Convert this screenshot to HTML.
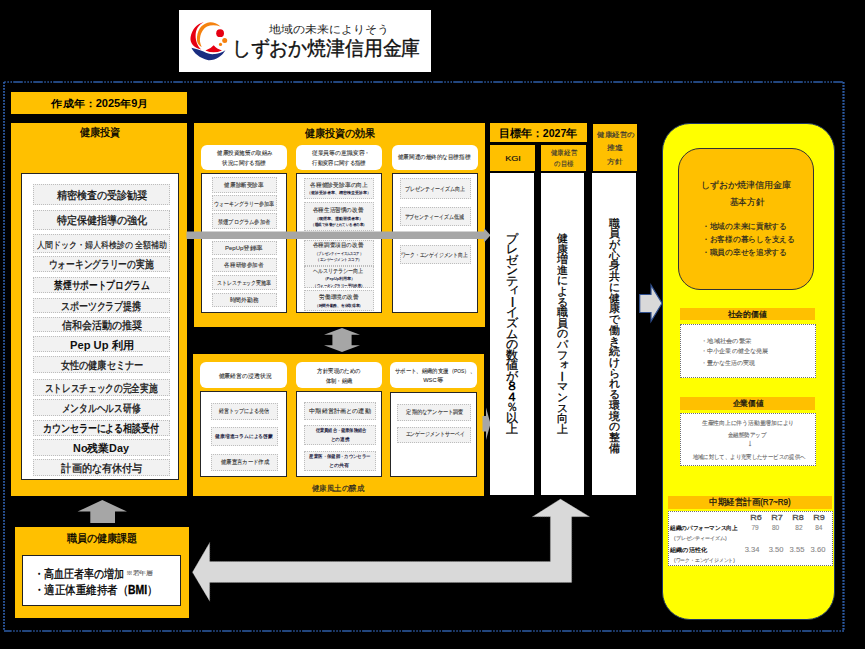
<!DOCTYPE html><html><head><meta charset="utf-8"><style>
*{margin:0;padding:0;box-sizing:border-box}
html,body{width:865px;height:649px;overflow:hidden;background:#000}
body{position:relative;font-family:"Liberation Sans",sans-serif;color:#000}
div,svg{position:absolute}
.it{background:#F2F2F2;border:1px dotted #BDBDBD}
.wb{background:#fff;border:1.5px solid #262626}
.rb{background:#fff;border-radius:6px}
.y{background:#FFC000}
.t{white-space:nowrap;line-height:1}
</style></head><body>
<div class="" style="left:179px;top:10px;width:252.00px;height:62.00px;background:#fff"></div>
<svg style="left:185px;top:18px" width="50" height="46" viewBox="0 0 50 46">
<path d="M18.8 3.9 C12 6 7 11 5.6 19 C4.6 25 9 30 16.3 31.6 C12.5 28 10.4 23 10.6 17 C10.8 11 13.5 7 18.8 3.9Z" fill="#E60012"/>
<path d="M35.5 8.5 C32 5 28 4 25 4.2 C18 5 13 10 12 19 C11.5 24 13 27 16.7 29 C15 25 14.5 22 15.2 19 C16 14 19 10 22 8.5 C26 6.8 31 7 35.5 8.5Z" fill="#F5820F"/>
<circle cx="35.1" cy="15.2" r="3.9" fill="#E60012"/>
<circle cx="39.7" cy="22.6" r="2.5" fill="#F5820F"/>
<circle cx="35.5" cy="26.4" r="1.6" fill="#F5820F"/>
<path d="M28.7 27.3 Q25.5 31.2 20.4 32.4 Q28.5 36.2 37 32.4 Q31.8 31.2 28.7 27.3Z" fill="#E60012"/>
<path d="M6.4 29.8 C9 35 14 40 23.4 42.2 C31 42.5 37 38 40.4 32.3 C37 34.5 34 35.6 30 36 C26.5 36.4 23 36 18.5 33.6 C14 31.5 10 31 6.4 29.8Z" fill="#1A2D80"/>
</svg>
<div id="t0e4bdf58" class="t" style="left:328.50px;top:29.00px;font-size:11px;transform:translate(-50%,-50%) scaleX(1.084);transform-origin:50% 50%;-webkit-text-stroke:0.3px currentColor;color:#222;font-family:'Liberation Serif',serif;-webkit-text-stroke:0">地域の未来によりそう</div>
<div id="t167fb4bd" class="t" style="left:325.50px;top:48.00px;font-size:20px;transform:translate(-50%,-50%) scaleX(0.942);transform-origin:50% 50%;-webkit-text-stroke:0.3px currentColor;color:#111;-webkit-text-stroke:0.4px #111">しずおか焼津信用金庫</div>
<svg style="left:0;top:0" width="865" height="649"><g stroke="#2E5DA8" fill="none"><line x1="4" y1="82" x2="844" y2="82" stroke-width="1.5" stroke-dasharray="9.6 1.5 1.5 1.6 1.5 1.6 1.5 1.2" stroke-dashoffset="10.8"/><line x1="4" y1="631" x2="844" y2="631" stroke-width="1.5" stroke-dasharray="9.6 1.5 1.5 1.6 1.5 1.6 1.5 1.2" stroke-dashoffset="1.9"/><line x1="4" y1="82" x2="4" y2="631" stroke-width="1.8" stroke-dasharray="1.7 1.3"/><line x1="843.5" y1="82" x2="843.5" y2="631" stroke-width="2.2" stroke-dasharray="1.7 1.3"/></g></svg>
<div class="y" style="left:11px;top:92px;width:176.00px;height:22.00px;"></div>
<div id="tf1b5cfc6" class="t" style="left:100.00px;top:104.00px;font-size:10px;transform:translate(-50%,-50%) scaleX(1.105);transform-origin:50% 50%;font-weight:bold">作成年：2025年9月</div>
<div class="y" style="left:11px;top:123px;width:176.00px;height:372.50px;"></div>
<div id="t45ab5881" class="t" style="left:100.00px;top:132.00px;font-size:10.5px;transform:translate(-50%,-50%) scaleX(0.926);transform-origin:50% 50%;-webkit-text-stroke:0.3px currentColor;">健康投資</div>
<div class="wb" style="left:21px;top:172.5px;width:157.70px;height:307.00px;"></div>
<div class="it" style="left:32.5px;top:184px;width:137.50px;height:20.50px;"></div>
<div id="t2077ab86" class="t" style="left:101.50px;top:195.20px;font-size:11px;transform:translate(-50%,-50%) scaleX(0.919);transform-origin:50% 50%;-webkit-text-stroke:0.3px currentColor;color:#111">精密検査の受診勧奨</div>
<div class="it" style="left:32.5px;top:209.5px;width:137.50px;height:20.00px;"></div>
<div id="t15f78cc2" class="t" style="left:101.50px;top:219.70px;font-size:11px;transform:translate(-50%,-50%) scaleX(0.919);transform-origin:50% 50%;-webkit-text-stroke:0.3px currentColor;color:#111">特定保健指導の強化</div>
<div class="it" style="left:32.5px;top:233.5px;width:137.50px;height:19.00px;"></div>
<div id="tf985c4e7" class="t" style="left:102.00px;top:244.70px;font-size:8.5px;transform:translate(-50%,-50%) scaleX(0.884);transform-origin:50% 50%;-webkit-text-stroke:0.15px currentColor;color:#111">人間ドック・婦人科検診の 全額補助</div>
<div class="it" style="left:32.5px;top:255.5px;width:137.50px;height:16.00px;"></div>
<div id="tda2bb77f" class="t" style="left:100.50px;top:263.70px;font-size:11px;transform:translate(-50%,-50%) scaleX(0.794);transform-origin:50% 50%;-webkit-text-stroke:0.3px currentColor;color:#111">ウォーキングラリーの実施</div>
<div class="it" style="left:32.5px;top:276.5px;width:137.50px;height:16.00px;"></div>
<div id="t773daa88" class="t" style="left:102.00px;top:285.20px;font-size:11px;transform:translate(-50%,-50%) scaleX(0.792);transform-origin:50% 50%;font-weight:bold;color:#111">禁煙サポートプログラム</div>
<div class="it" style="left:32.5px;top:297.5px;width:137.50px;height:15.50px;"></div>
<div id="t94aa2943" class="t" style="left:101.00px;top:306.20px;font-size:11px;transform:translate(-50%,-50%) scaleX(0.817);transform-origin:50% 50%;-webkit-text-stroke:0.3px currentColor;color:#111">スポーツクラブ提携</div>
<div class="it" style="left:32.5px;top:317px;width:137.50px;height:15.00px;"></div>
<div id="t51c74ce7" class="t" style="left:102.00px;top:324.70px;font-size:11px;transform:translate(-50%,-50%) scaleX(0.909);transform-origin:50% 50%;-webkit-text-stroke:0.3px currentColor;color:#111">信和会活動の推奨</div>
<div class="it" style="left:32.5px;top:336px;width:137.50px;height:16.00px;"></div>
<div id="t1472ccc7" class="t" style="left:101.50px;top:344.70px;font-size:11px;transform:translate(-50%,-50%) scaleX(1.016);transform-origin:50% 50%;font-weight:bold;color:#111">Pep Up 利用</div>
<div class="it" style="left:32.5px;top:356px;width:137.50px;height:17.00px;"></div>
<div id="td626e65e" class="t" style="left:102.00px;top:364.70px;font-size:11px;transform:translate(-50%,-50%) scaleX(0.837);transform-origin:50% 50%;-webkit-text-stroke:0.3px currentColor;color:#111">女性の健康セミナー</div>
<div class="it" style="left:32.5px;top:378.5px;width:137.50px;height:17.50px;"></div>
<div id="tff82e9bc" class="t" style="left:101.00px;top:388.20px;font-size:11px;transform:translate(-50%,-50%) scaleX(0.789);transform-origin:50% 50%;-webkit-text-stroke:0.3px currentColor;color:#111">ストレスチェックの完全実施</div>
<div class="it" style="left:32.5px;top:399px;width:137.50px;height:16.50px;"></div>
<div id="t6e018c71" class="t" style="left:101.00px;top:408.20px;font-size:11px;transform:translate(-50%,-50%) scaleX(0.796);transform-origin:50% 50%;-webkit-text-stroke:0.3px currentColor;color:#111">メンタルヘルス研修</div>
<div class="it" style="left:32.5px;top:419.5px;width:137.50px;height:16.00px;"></div>
<div id="tf540cbac" class="t" style="left:101.00px;top:428.20px;font-size:11px;transform:translate(-50%,-50%) scaleX(0.817);transform-origin:50% 50%;font-weight:bold;color:#111">カウンセラーによる相談受付</div>
<div class="it" style="left:32.5px;top:439px;width:137.50px;height:16.50px;"></div>
<div id="t15cdb884" class="t" style="left:101.00px;top:448.20px;font-size:11px;transform:translate(-50%,-50%) scaleX(0.982);transform-origin:50% 50%;font-weight:bold;color:#111">No残業Day</div>
<div class="it" style="left:32.5px;top:459px;width:137.50px;height:16.50px;"></div>
<div id="t2916e353" class="t" style="left:102.00px;top:468.20px;font-size:11px;transform:translate(-50%,-50%) scaleX(0.921);transform-origin:50% 50%;-webkit-text-stroke:0.3px currentColor;color:#111">計画的な有休付与</div>
<div class="y" style="left:193.5px;top:123px;width:291.00px;height:204.00px;"></div>
<div id="t09cd04c0" class="t" style="left:339.50px;top:132.50px;font-size:11px;transform:translate(-50%,-50%) scaleX(0.920);transform-origin:50% 50%;-webkit-text-stroke:0.3px currentColor;">健康投資の効果</div>
<div class="rb" style="left:201px;top:144.5px;width:86.00px;height:25.50px;"></div>
<div class="wb" style="left:201px;top:173px;width:86.00px;height:139.50px;"></div>
<div class="rb" style="left:296px;top:144.5px;width:86.00px;height:25.50px;"></div>
<div class="wb" style="left:296px;top:173px;width:86.00px;height:139.50px;"></div>
<div class="rb" style="left:391.5px;top:144.5px;width:86.00px;height:25.50px;"></div>
<div class="wb" style="left:391.5px;top:173px;width:86.00px;height:139.50px;"></div>
<div id="ta4ef42b8" class="t" style="left:245.00px;top:153.50px;font-size:5.5px;transform:translate(-50%,-50%) scaleX(0.919);transform-origin:50% 50%;-webkit-text-stroke:0.1px currentColor;color:#333">健康投資施策の取組み</div>
<div id="t031d5e7b" class="t" style="left:243.50px;top:163.50px;font-size:5.5px;transform:translate(-50%,-50%) scaleX(0.914);transform-origin:50% 50%;-webkit-text-stroke:0.1px currentColor;color:#333">状況に関する指標</div>
<div id="t3e465d54" class="t" style="left:341.00px;top:153.50px;font-size:5.5px;transform:translate(-50%,-50%) scaleX(0.973);transform-origin:50% 50%;-webkit-text-stroke:0.1px currentColor;color:#333">従業員等の意識変容・</div>
<div id="t0165ee0a" class="t" style="left:339.00px;top:163.50px;font-size:5.5px;transform:translate(-50%,-50%) scaleX(0.893);transform-origin:50% 50%;-webkit-text-stroke:0.1px currentColor;color:#333">行動変容に関する指標</div>
<div id="t205b4383" class="t" style="left:434.00px;top:158.00px;font-size:5.5px;transform:translate(-50%,-50%) scaleX(0.926);transform-origin:50% 50%;-webkit-text-stroke:0.1px currentColor;color:#333">健康関連の最終的な目標指標</div>
<div class="it" style="left:211.5px;top:177px;width:65.00px;height:15.50px;"></div>
<div id="taf4f44cf" class="t" style="left:244.00px;top:186.30px;font-size:5.5px;transform:translate(-50%,-50%) scaleX(0.929);transform-origin:50% 50%;-webkit-text-stroke:0.1px currentColor;color:#333">健康診断受診率</div>
<div class="it" style="left:211.5px;top:195px;width:65.00px;height:16.00px;"></div>
<div id="tbf0c9635" class="t" style="left:243.50px;top:204.80px;font-size:5.5px;transform:translate(-50%,-50%) scaleX(0.831);transform-origin:50% 50%;-webkit-text-stroke:0.1px currentColor;color:#333">ウォーキングラリー参加率</div>
<div class="it" style="left:211.5px;top:213px;width:65.00px;height:16.00px;"></div>
<div id="t603f031b" class="t" style="left:244.00px;top:222.80px;font-size:5.5px;transform:translate(-50%,-50%) scaleX(0.867);transform-origin:50% 50%;-webkit-text-stroke:0.1px currentColor;color:#333">禁煙プログラム参加者</div>
<div class="it" style="left:211.5px;top:241px;width:65.00px;height:13.50px;"></div>
<div id="t2bb5a82e" class="t" style="left:244.00px;top:249.30px;font-size:5.5px;transform:translate(-50%,-50%) scaleX(1.088);transform-origin:50% 50%;-webkit-text-stroke:0.1px currentColor;color:#333">PepUp登録率</div>
<div class="it" style="left:211.5px;top:258px;width:65.00px;height:13.50px;"></div>
<div id="t01b677c1" class="t" style="left:244.00px;top:266.30px;font-size:5.5px;transform:translate(-50%,-50%) scaleX(0.929);transform-origin:50% 50%;-webkit-text-stroke:0.1px currentColor;color:#333">各種研修参加者</div>
<div class="it" style="left:211.5px;top:274.5px;width:65.00px;height:15.00px;"></div>
<div id="teb963d2b" class="t" style="left:243.50px;top:283.80px;font-size:5.5px;transform:translate(-50%,-50%) scaleX(0.815);transform-origin:50% 50%;-webkit-text-stroke:0.1px currentColor;color:#333">ストレスチェック実施率</div>
<div class="it" style="left:211.5px;top:293px;width:65.00px;height:13.50px;"></div>
<div id="tc0d579b9" class="t" style="left:243.50px;top:301.30px;font-size:5.5px;transform:translate(-50%,-50%) scaleX(0.966);transform-origin:50% 50%;-webkit-text-stroke:0.1px currentColor;color:#333">時間外勤務</div>
<div class="it" style="left:303.5px;top:177.5px;width:70.50px;height:21.00px;"></div>
<div class="it" style="left:303.5px;top:202px;width:70.50px;height:28.50px;"></div>
<div class="it" style="left:303.5px;top:239.5px;width:70.50px;height:26.00px;"></div>
<div class="it" style="left:303.5px;top:265.5px;width:70.50px;height:22.50px;"></div>
<div class="it" style="left:303.5px;top:290px;width:70.50px;height:20.50px;"></div>
<div id="tf2401383" class="t" style="left:338.50px;top:186.00px;font-size:5.5px;transform:translate(-50%,-50%) scaleX(0.962);transform-origin:50% 50%;-webkit-text-stroke:0.1px currentColor;color:#333">各種健診受診率の向上</div>
<div id="tf4c7ce65" class="t" style="left:339.00px;top:194.00px;font-size:3.8px;transform:translate(-50%,-50%) scaleX(0.995);transform-origin:50% 50%;color:#1a1a3a;font-weight:bold">（健診受診者率、精密検査受診率）</div>
<div id="t478d2fc5" class="t" style="left:338.00px;top:211.00px;font-size:5.5px;transform:translate(-50%,-50%) scaleX(0.935);transform-origin:50% 50%;-webkit-text-stroke:0.1px currentColor;color:#333">各種生活習慣の改善</div>
<div id="td45bda7b" class="t" style="left:338.50px;top:219.50px;font-size:3.8px;transform:translate(-50%,-50%) scaleX(0.996);transform-origin:50% 50%;color:#1a1a3a;font-weight:bold">（喫煙率、運動習慣者率）</div>
<div id="t1536c896" class="t" style="left:338.50px;top:225.50px;font-size:3.8px;transform:translate(-50%,-50%) scaleX(0.860);transform-origin:50% 50%;color:#1a1a3a;font-weight:bold">（睡眠で休養がとれている者の率）</div>
<div id="t45578a17" class="t" style="left:338.00px;top:246.00px;font-size:5.5px;transform:translate(-50%,-50%) scaleX(0.935);transform-origin:50% 50%;-webkit-text-stroke:0.1px currentColor;color:#333">各種調査項目の改善</div>
<div id="tc26bcb35" class="t" style="left:338.50px;top:255.00px;font-size:3.8px;transform:translate(-50%,-50%) scaleX(0.792);transform-origin:50% 50%;color:#1a1a3a;font-weight:bold">（プレゼンティーイズムスコア）</div>
<div id="td4ae2207" class="t" style="left:339.00px;top:260.50px;font-size:3.8px;transform:translate(-50%,-50%) scaleX(0.867);transform-origin:50% 50%;color:#1a1a3a;font-weight:bold">（エンゲージメントスコア）</div>
<div id="t34e5b0dd" class="t" style="left:338.00px;top:271.50px;font-size:5.5px;transform:translate(-50%,-50%) scaleX(0.847);transform-origin:50% 50%;-webkit-text-stroke:0.1px currentColor;color:#333">ヘルスリテラシー向上</div>
<div id="tefb3da15" class="t" style="left:339.00px;top:279.50px;font-size:3.8px;transform:translate(-50%,-50%) scaleX(1.014);transform-origin:50% 50%;color:#1a1a3a;font-weight:bold">（PepUp利用率）</div>
<div id="t3b469108" class="t" style="left:338.50px;top:286.50px;font-size:3.8px;transform:translate(-50%,-50%) scaleX(0.853);transform-origin:50% 50%;color:#1a1a3a;font-weight:bold">（ウォーキングラリー平均歩数）</div>
<div id="t4af6acf0" class="t" style="left:339.00px;top:298.00px;font-size:5.5px;transform:translate(-50%,-50%) scaleX(0.937);transform-origin:50% 50%;-webkit-text-stroke:0.1px currentColor;color:#333">労働環境の改善</div>
<div id="t0f0f396c" class="t" style="left:338.50px;top:306.50px;font-size:3.8px;transform:translate(-50%,-50%) scaleX(0.928);transform-origin:50% 50%;color:#1a1a3a;font-weight:bold">（時間外勤務、有休取得率）</div>
<div class="it" style="left:400px;top:178px;width:70.50px;height:20.50px;"></div>
<div id="tf1e36ef1" class="t" style="left:435.00px;top:190.30px;font-size:5.5px;transform:translate(-50%,-50%) scaleX(0.829);transform-origin:50% 50%;-webkit-text-stroke:0.1px currentColor;color:#333">プレゼンティーイズム向上</div>
<div class="it" style="left:400px;top:207px;width:70.50px;height:18.50px;"></div>
<div id="t4d20fc9c" class="t" style="left:433.50px;top:218.30px;font-size:5.5px;transform:translate(-50%,-50%) scaleX(0.817);transform-origin:50% 50%;-webkit-text-stroke:0.1px currentColor;color:#333">アブセンティーイズム低減</div>
<div class="it" style="left:400px;top:245px;width:70.50px;height:18.50px;"></div>
<div id="t6080fe3c" class="t" style="left:434.00px;top:256.30px;font-size:5.5px;transform:translate(-50%,-50%) scaleX(0.793);transform-origin:50% 50%;-webkit-text-stroke:0.1px currentColor;color:#333">ワーク・エンゲイジメント向上</div>
<svg style="left:0;top:0" width="865" height="649"><path d="M186.5 231.5 H484 V228 L490.5 235.2 L484 242.5 V239 H186.5Z" fill="#A6A6A6"/></svg>
<svg style="left:0;top:0" width="865" height="649"><path d="M342 328 L360 334.8 H351.6 V345.3 H360 L342 352 L324 345.3 H332.4 V334.8 H324Z" fill="#A6A6A6"/></svg>
<div class="y" style="left:193px;top:354px;width:291.00px;height:141.50px;"></div>
<div class="rb" style="left:200.3px;top:362px;width:86.70px;height:26.00px;"></div>
<div class="wb" style="left:200.3px;top:390.7px;width:86.70px;height:86.80px;"></div>
<div class="rb" style="left:295.5px;top:362px;width:86.50px;height:26.00px;"></div>
<div class="wb" style="left:295.5px;top:391.3px;width:86.50px;height:86.20px;"></div>
<div class="rb" style="left:390.4px;top:362px;width:87.00px;height:26.00px;"></div>
<div class="wb" style="left:390.4px;top:392.2px;width:87.00px;height:85.30px;"></div>
<div id="tbc229421" class="t" style="left:244.50px;top:376.50px;font-size:5.5px;transform:translate(-50%,-50%) scaleX(0.979);transform-origin:50% 50%;-webkit-text-stroke:0.1px currentColor;color:#333">健康経営の浸透状況</div>
<div id="ted4e7ac6" class="t" style="left:339.00px;top:371.50px;font-size:5.5px;transform:translate(-50%,-50%) scaleX(0.897);transform-origin:50% 50%;-webkit-text-stroke:0.1px currentColor;color:#333">方針実現のための</div>
<div id="t8a0e35e8" class="t" style="left:338.50px;top:381.50px;font-size:5.5px;transform:translate(-50%,-50%) scaleX(0.878);transform-origin:50% 50%;-webkit-text-stroke:0.1px currentColor;color:#333">体制・組織</div>
<div id="t9b1a5679" class="t" style="left:434.50px;top:371.50px;font-size:5.5px;transform:translate(-50%,-50%) scaleX(0.894);transform-origin:50% 50%;-webkit-text-stroke:0.1px currentColor;color:#333">サポート、組織的支援（POS）、</div>
<div id="te616ea77" class="t" style="left:433.00px;top:381.00px;font-size:5.5px;transform:translate(-50%,-50%) scaleX(1.042);transform-origin:50% 50%;-webkit-text-stroke:0.1px currentColor;color:#333">WSC等</div>
<div class="it" style="left:211px;top:402.5px;width:66.50px;height:17.00px;"></div>
<div class="it" style="left:211px;top:427px;width:66.50px;height:18.50px;"></div>
<div class="it" style="left:211px;top:454px;width:66.50px;height:17.00px;"></div>
<div id="tb47efaa5" class="t" style="left:244.00px;top:412.00px;font-size:5.5px;transform:translate(-50%,-50%) scaleX(0.841);transform-origin:50% 50%;-webkit-text-stroke:0.1px currentColor;color:#333">経営トップによる発信</div>
<div id="te2d6b3ac" class="t" style="left:244.00px;top:437.00px;font-size:4.8px;transform:translate(-50%,-50%) scaleX(0.953);transform-origin:50% 50%;color:#1a1a40;font-weight:bold">健康増進コラムによる啓蒙</div>
<div id="t5abe1ca2" class="t" style="left:244.50px;top:463.00px;font-size:5.5px;transform:translate(-50%,-50%) scaleX(0.899);transform-origin:50% 50%;-webkit-text-stroke:0.1px currentColor;color:#333">健康宣言カード作成</div>
<div class="it" style="left:303.5px;top:402px;width:72.50px;height:18.00px;"></div>
<div class="it" style="left:303.5px;top:425px;width:72.50px;height:19.50px;"></div>
<div class="it" style="left:303.5px;top:451px;width:72.50px;height:20.00px;"></div>
<div id="tff1a3306" class="t" style="left:339.50px;top:411.00px;font-size:6px;transform:translate(-50%,-50%) scaleX(1.024);transform-origin:50% 50%;-webkit-text-stroke:0.1px currentColor;color:#333">中期経営計画との連動</div>
<div id="t90288ef0" class="t" style="left:340.50px;top:431.00px;font-size:4.5px;transform:translate(-50%,-50%) scaleX(0.847);transform-origin:50% 50%;color:#1a1a40;font-weight:bold">従業員組合・健康保険組合</div>
<div id="t5fa284c4" class="t" style="left:340.00px;top:440.00px;font-size:4.5px;transform:translate(-50%,-50%) scaleX(0.929);transform-origin:50% 50%;color:#1a1a40;font-weight:bold">との連携</div>
<div id="t35af6e5b" class="t" style="left:340.00px;top:457.00px;font-size:4.5px;transform:translate(-50%,-50%) scaleX(0.872);transform-origin:50% 50%;color:#1a1a40;font-weight:bold">産業医・保健師・カウンセラー</div>
<div id="t3c4f8156" class="t" style="left:339.00px;top:466.00px;font-size:4.5px;transform:translate(-50%,-50%) scaleX(1.026);transform-origin:50% 50%;color:#1a1a40;font-weight:bold">との共有</div>
<div class="it" style="left:397px;top:403.5px;width:73.50px;height:17.00px;"></div>
<div class="it" style="left:397px;top:426.5px;width:73.50px;height:16.00px;"></div>
<div id="tb50c890f" class="t" style="left:435.00px;top:412.50px;font-size:5.5px;transform:translate(-50%,-50%) scaleX(0.864);transform-origin:50% 50%;-webkit-text-stroke:0.1px currentColor;color:#333">定期的なアンケート調査</div>
<div id="tbb27ec8b" class="t" style="left:435.00px;top:434.50px;font-size:5.5px;transform:translate(-50%,-50%) scaleX(0.817);transform-origin:50% 50%;-webkit-text-stroke:0.1px currentColor;color:#333">エンゲージメントサーベイ</div>
<div id="tc0ad2a1b" class="t" style="left:337.50px;top:488.50px;font-size:7.5px;transform:translate(-50%,-50%) scaleX(0.931);transform-origin:50% 50%;-webkit-text-stroke:0.15px currentColor;color:#222">健康風土の醸成</div>
<svg style="left:0;top:0" width="865" height="649"><path d="M482.5 416 H486 V407.5 L490.5 423.7 L486 440 V431.5 H482.5Z" fill="#A6A6A6"/></svg>
<div class="y" style="left:490px;top:123px;width:97.00px;height:19.00px;"></div>
<div id="t9ec445de" class="t" style="left:538.00px;top:132.50px;font-size:10.5px;transform:translate(-50%,-50%) scaleX(1.006);transform-origin:50% 50%;font-weight:bold">目標年：2027年</div>
<div class="y" style="left:490px;top:144.5px;width:45.00px;height:26.00px;"></div>
<div id="te71a65d5" class="t" style="left:512.50px;top:158.50px;font-size:7.5px;transform:translate(-50%,-50%) scaleX(1.216);transform-origin:50% 50%;-webkit-text-stroke:0.15px currentColor;color:#111">KGI</div>
<div class="y" style="left:541px;top:144.5px;width:45.00px;height:26.00px;"></div>
<div id="t3300ab50" class="t" style="left:564.00px;top:152.50px;font-size:6.5px;transform:translate(-50%,-50%) scaleX(0.929);transform-origin:50% 50%;-webkit-text-stroke:0.1px currentColor;color:#333">健康経営</div>
<div id="t524e9445" class="t" style="left:563.50px;top:163.50px;font-size:6.5px;transform:translate(-50%,-50%) scaleX(0.905);transform-origin:50% 50%;-webkit-text-stroke:0.1px currentColor;color:#333">の目標</div>
<div class="y" style="left:592.5px;top:124px;width:44.00px;height:46.50px;"></div>
<div id="tda4d6a4a" class="t" style="left:615.50px;top:133.50px;font-size:7px;transform:translate(-50%,-50%) scaleX(1.068);transform-origin:50% 50%;-webkit-text-stroke:0.15px currentColor;color:#333">健康経営の</div>
<div id="t77a9b9cb" class="t" style="left:615.00px;top:146.50px;font-size:7px;transform:translate(-50%,-50%) scaleX(1.124);transform-origin:50% 50%;-webkit-text-stroke:0.15px currentColor;color:#333">推進</div>
<div id="t3790fdd5" class="t" style="left:615.00px;top:160.50px;font-size:7px;transform:translate(-50%,-50%) scaleX(1.110);transform-origin:50% 50%;-webkit-text-stroke:0.15px currentColor;color:#333">方針</div>
<div class="" style="left:490.3px;top:172.5px;width:43.70px;height:322.80px;background:#fff"></div>
<div class="t" style="left:504px;top:233.50px;width:16px;text-align:center;font-size:11.5px;line-height:10.56px;height:10.56px;-webkit-text-stroke:0.25px #000;">プ</div>
<div class="t" style="left:504px;top:244.06px;width:16px;text-align:center;font-size:11.5px;line-height:10.56px;height:10.56px;-webkit-text-stroke:0.25px #000;">レ</div>
<div class="t" style="left:504px;top:254.62px;width:16px;text-align:center;font-size:11.5px;line-height:10.56px;height:10.56px;-webkit-text-stroke:0.25px #000;">ゼ</div>
<div class="t" style="left:504px;top:265.18px;width:16px;text-align:center;font-size:11.5px;line-height:10.56px;height:10.56px;-webkit-text-stroke:0.25px #000;">ン</div>
<div class="t" style="left:504px;top:275.74px;width:16px;text-align:center;font-size:11.5px;line-height:10.56px;height:10.56px;-webkit-text-stroke:0.25px #000;">テ</div>
<div class="t" style="left:506px;top:284.30px;width:16px;text-align:center;font-size:11.5px;line-height:10.56px;height:10.56px;-webkit-text-stroke:0.25px #000;">ィ</div>
<div class="t" style="left:504px;top:296.86px;width:16px;text-align:center;font-size:11.5px;line-height:10.56px;height:10.56px;transform:rotate(90deg);-webkit-text-stroke:0.25px #000;">ー</div>
<div class="t" style="left:504px;top:307.42px;width:16px;text-align:center;font-size:11.5px;line-height:10.56px;height:10.56px;-webkit-text-stroke:0.25px #000;">イ</div>
<div class="t" style="left:504px;top:317.98px;width:16px;text-align:center;font-size:11.5px;line-height:10.56px;height:10.56px;-webkit-text-stroke:0.25px #000;">ズ</div>
<div class="t" style="left:504px;top:328.54px;width:16px;text-align:center;font-size:11.5px;line-height:10.56px;height:10.56px;-webkit-text-stroke:0.25px #000;">ム</div>
<div class="t" style="left:504px;top:339.10px;width:16px;text-align:center;font-size:11.5px;line-height:10.56px;height:10.56px;-webkit-text-stroke:0.25px #000;">の</div>
<div class="t" style="left:504px;top:349.66px;width:16px;text-align:center;font-size:11.5px;line-height:10.56px;height:10.56px;-webkit-text-stroke:0.25px #000;">数</div>
<div class="t" style="left:504px;top:360.22px;width:16px;text-align:center;font-size:11.5px;line-height:10.56px;height:10.56px;-webkit-text-stroke:0.25px #000;">値</div>
<div class="t" style="left:504px;top:370.78px;width:16px;text-align:center;font-size:11.5px;line-height:10.56px;height:10.56px;-webkit-text-stroke:0.25px #000;">が</div>
<div class="t" style="left:504px;top:381.34px;width:16px;text-align:center;font-size:11.5px;line-height:10.56px;height:10.56px;font-weight:bold;">８</div>
<div class="t" style="left:504px;top:391.90px;width:16px;text-align:center;font-size:11.5px;line-height:10.56px;height:10.56px;font-weight:bold;">４</div>
<div class="t" style="left:504px;top:402.46px;width:16px;text-align:center;font-size:11.5px;line-height:10.56px;height:10.56px;-webkit-text-stroke:0.25px #000;">％</div>
<div class="t" style="left:504px;top:413.02px;width:16px;text-align:center;font-size:11.5px;line-height:10.56px;height:10.56px;-webkit-text-stroke:0.25px #000;">以</div>
<div class="t" style="left:504px;top:423.58px;width:16px;text-align:center;font-size:11.5px;line-height:10.56px;height:10.56px;-webkit-text-stroke:0.25px #000;">上</div>
<div class="" style="left:541px;top:172.5px;width:43.00px;height:322.80px;background:#fff"></div>
<div class="t" style="left:554px;top:233.00px;width:16px;text-align:center;font-size:10.5px;line-height:10.6px;height:10.6px;-webkit-text-stroke:0.25px #000;">健</div>
<div class="t" style="left:554px;top:243.60px;width:16px;text-align:center;font-size:10.5px;line-height:10.6px;height:10.6px;-webkit-text-stroke:0.25px #000;">康</div>
<div class="t" style="left:554px;top:254.20px;width:16px;text-align:center;font-size:10.5px;line-height:10.6px;height:10.6px;-webkit-text-stroke:0.25px #000;">増</div>
<div class="t" style="left:554px;top:264.80px;width:16px;text-align:center;font-size:10.5px;line-height:10.6px;height:10.6px;-webkit-text-stroke:0.25px #000;">進</div>
<div class="t" style="left:554px;top:275.40px;width:16px;text-align:center;font-size:10.5px;line-height:10.6px;height:10.6px;-webkit-text-stroke:0.25px #000;">に</div>
<div class="t" style="left:554px;top:286.00px;width:16px;text-align:center;font-size:10.5px;line-height:10.6px;height:10.6px;-webkit-text-stroke:0.25px #000;">よ</div>
<div class="t" style="left:554px;top:296.60px;width:16px;text-align:center;font-size:10.5px;line-height:10.6px;height:10.6px;-webkit-text-stroke:0.25px #000;">る</div>
<div class="t" style="left:554px;top:307.20px;width:16px;text-align:center;font-size:10.5px;line-height:10.6px;height:10.6px;-webkit-text-stroke:0.25px #000;">職</div>
<div class="t" style="left:554px;top:317.80px;width:16px;text-align:center;font-size:10.5px;line-height:10.6px;height:10.6px;-webkit-text-stroke:0.25px #000;">員</div>
<div class="t" style="left:554px;top:328.40px;width:16px;text-align:center;font-size:10.5px;line-height:10.6px;height:10.6px;-webkit-text-stroke:0.25px #000;">の</div>
<div class="t" style="left:554px;top:339.00px;width:16px;text-align:center;font-size:10.5px;line-height:10.6px;height:10.6px;-webkit-text-stroke:0.25px #000;">パ</div>
<div class="t" style="left:554px;top:349.60px;width:16px;text-align:center;font-size:10.5px;line-height:10.6px;height:10.6px;-webkit-text-stroke:0.25px #000;">フ</div>
<div class="t" style="left:556px;top:358.20px;width:16px;text-align:center;font-size:10.5px;line-height:10.6px;height:10.6px;-webkit-text-stroke:0.25px #000;">ォ</div>
<div class="t" style="left:554px;top:370.80px;width:16px;text-align:center;font-size:10.5px;line-height:10.6px;height:10.6px;transform:rotate(90deg);-webkit-text-stroke:0.25px #000;">ー</div>
<div class="t" style="left:554px;top:381.40px;width:16px;text-align:center;font-size:10.5px;line-height:10.6px;height:10.6px;-webkit-text-stroke:0.25px #000;">マ</div>
<div class="t" style="left:554px;top:392.00px;width:16px;text-align:center;font-size:10.5px;line-height:10.6px;height:10.6px;-webkit-text-stroke:0.25px #000;">ン</div>
<div class="t" style="left:554px;top:402.60px;width:16px;text-align:center;font-size:10.5px;line-height:10.6px;height:10.6px;-webkit-text-stroke:0.25px #000;">ス</div>
<div class="t" style="left:554px;top:413.20px;width:16px;text-align:center;font-size:10.5px;line-height:10.6px;height:10.6px;-webkit-text-stroke:0.25px #000;">向</div>
<div class="t" style="left:554px;top:423.80px;width:16px;text-align:center;font-size:10.5px;line-height:10.6px;height:10.6px;-webkit-text-stroke:0.25px #000;">上</div>
<div class="" style="left:592.4px;top:172.5px;width:43.90px;height:322.80px;background:#fff"></div>
<div class="t" style="left:606px;top:217.50px;width:16px;text-align:center;font-size:10.5px;line-height:10.73px;height:10.73px;-webkit-text-stroke:0.25px #000;">職</div>
<div class="t" style="left:606px;top:228.23px;width:16px;text-align:center;font-size:10.5px;line-height:10.73px;height:10.73px;-webkit-text-stroke:0.25px #000;">員</div>
<div class="t" style="left:606px;top:238.96px;width:16px;text-align:center;font-size:10.5px;line-height:10.73px;height:10.73px;-webkit-text-stroke:0.25px #000;">が</div>
<div class="t" style="left:606px;top:249.69px;width:16px;text-align:center;font-size:10.5px;line-height:10.73px;height:10.73px;-webkit-text-stroke:0.25px #000;">心</div>
<div class="t" style="left:606px;top:260.42px;width:16px;text-align:center;font-size:10.5px;line-height:10.73px;height:10.73px;-webkit-text-stroke:0.25px #000;">身</div>
<div class="t" style="left:606px;top:271.15px;width:16px;text-align:center;font-size:10.5px;line-height:10.73px;height:10.73px;-webkit-text-stroke:0.25px #000;">共</div>
<div class="t" style="left:606px;top:281.88px;width:16px;text-align:center;font-size:10.5px;line-height:10.73px;height:10.73px;-webkit-text-stroke:0.25px #000;">に</div>
<div class="t" style="left:606px;top:292.61px;width:16px;text-align:center;font-size:10.5px;line-height:10.73px;height:10.73px;-webkit-text-stroke:0.25px #000;">健</div>
<div class="t" style="left:606px;top:303.34px;width:16px;text-align:center;font-size:10.5px;line-height:10.73px;height:10.73px;-webkit-text-stroke:0.25px #000;">康</div>
<div class="t" style="left:606px;top:314.07px;width:16px;text-align:center;font-size:10.5px;line-height:10.73px;height:10.73px;-webkit-text-stroke:0.25px #000;">で</div>
<div class="t" style="left:606px;top:324.80px;width:16px;text-align:center;font-size:10.5px;line-height:10.73px;height:10.73px;-webkit-text-stroke:0.25px #000;">働</div>
<div class="t" style="left:606px;top:335.53px;width:16px;text-align:center;font-size:10.5px;line-height:10.73px;height:10.73px;-webkit-text-stroke:0.25px #000;">き</div>
<div class="t" style="left:606px;top:346.26px;width:16px;text-align:center;font-size:10.5px;line-height:10.73px;height:10.73px;-webkit-text-stroke:0.25px #000;">続</div>
<div class="t" style="left:606px;top:356.99px;width:16px;text-align:center;font-size:10.5px;line-height:10.73px;height:10.73px;-webkit-text-stroke:0.25px #000;">け</div>
<div class="t" style="left:606px;top:367.72px;width:16px;text-align:center;font-size:10.5px;line-height:10.73px;height:10.73px;-webkit-text-stroke:0.25px #000;">ら</div>
<div class="t" style="left:606px;top:378.45px;width:16px;text-align:center;font-size:10.5px;line-height:10.73px;height:10.73px;-webkit-text-stroke:0.25px #000;">れ</div>
<div class="t" style="left:606px;top:389.18px;width:16px;text-align:center;font-size:10.5px;line-height:10.73px;height:10.73px;-webkit-text-stroke:0.25px #000;">る</div>
<div class="t" style="left:606px;top:399.91px;width:16px;text-align:center;font-size:10.5px;line-height:10.73px;height:10.73px;-webkit-text-stroke:0.25px #000;">環</div>
<div class="t" style="left:606px;top:410.64px;width:16px;text-align:center;font-size:10.5px;line-height:10.73px;height:10.73px;-webkit-text-stroke:0.25px #000;">境</div>
<div class="t" style="left:606px;top:421.37px;width:16px;text-align:center;font-size:10.5px;line-height:10.73px;height:10.73px;-webkit-text-stroke:0.25px #000;">の</div>
<div class="t" style="left:606px;top:432.10px;width:16px;text-align:center;font-size:10.5px;line-height:10.73px;height:10.73px;-webkit-text-stroke:0.25px #000;">整</div>
<div class="t" style="left:606px;top:442.83px;width:16px;text-align:center;font-size:10.5px;line-height:10.73px;height:10.73px;-webkit-text-stroke:0.25px #000;">備</div>
<svg style="left:0;top:0" width="865" height="649"><path d="M639.7 294.5 H651 V285.2 L662 303.3 L651 321.3 V312.5 H639.7Z" fill="#D9D9D9" stroke="#2F4F8F" stroke-width="1.2"/></svg>
<div class="" style="left:662.3px;top:123.3px;width:173.20px;height:496.70px;background:#FFFF00;border:1.2px solid #203864;border-radius:28px"></div>
<div class="" style="left:677.6px;top:147.6px;width:136.20px;height:142.00px;background:#FFC000;border:1px solid #333;border-radius:22px"></div>
<div id="ta1ead87f" class="t" style="left:745.50px;top:185.00px;font-size:9px;transform:translate(-50%,-50%) scaleX(1.006);transform-origin:50% 50%;-webkit-text-stroke:0.15px currentColor;color:#222">しずおか焼津信用金庫</div>
<div id="t5b9b5d6b" class="t" style="left:746.50px;top:201.50px;font-size:9px;transform:translate(-50%,-50%) scaleX(0.964);transform-origin:50% 50%;-webkit-text-stroke:0.15px currentColor;color:#222">基本方針</div>
<div id="te09c40e2" class="t" style="left:702.00px;top:226.50px;font-size:7.5px;transform:translateY(-50%) scaleX(0.964);transform-origin:0 50%;-webkit-text-stroke:0.15px currentColor;color:#222">・地域の未来に貢献する</div>
<div id="t54277308" class="t" style="left:702.00px;top:239.50px;font-size:7.5px;transform:translateY(-50%) scaleX(0.967);transform-origin:0 50%;-webkit-text-stroke:0.15px currentColor;color:#222">・お客様の暮らしを支える</div>
<div id="t74294126" class="t" style="left:702.00px;top:252.50px;font-size:7.5px;transform:translateY(-50%) scaleX(0.964);transform-origin:0 50%;-webkit-text-stroke:0.15px currentColor;color:#222">・職員の幸せを追求する</div>
<div class="y" style="left:680px;top:307.5px;width:135.00px;height:12.50px;"></div>
<div id="t60e6b397" class="t" style="left:746.50px;top:315.00px;font-size:8px;transform:translate(-50%,-50%) scaleX(0.971);transform-origin:50% 50%;-webkit-text-stroke:0.15px currentColor;color:#111;-webkit-text-stroke:0.3px #111">社会的価値</div>
<div class="" style="left:680px;top:324px;width:136.00px;height:53.50px;background:#fff;border:1px dotted #707070"></div>
<div id="t522ea741" class="t" style="left:701.00px;top:340.50px;font-size:6px;transform:translateY(-50%) scaleX(1.047);transform-origin:0 50%;-webkit-text-stroke:0.1px currentColor;color:#666">・地域社会の繁栄</div>
<div id="taec7646f" class="t" style="left:701.00px;top:350.50px;font-size:6px;transform:translateY(-50%) scaleX(1.018);transform-origin:0 50%;-webkit-text-stroke:0.1px currentColor;color:#666">・中小企業の健全な発展</div>
<div id="t16cadca5" class="t" style="left:701.00px;top:362.50px;font-size:6px;transform:translateY(-50%) scaleX(0.993);transform-origin:0 50%;-webkit-text-stroke:0.1px currentColor;color:#666">・豊かな生活の実現</div>
<div class="y" style="left:680px;top:397px;width:135.00px;height:12.50px;"></div>
<div id="tda3c8d02" class="t" style="left:747.50px;top:404.00px;font-size:8px;transform:translate(-50%,-50%) scaleX(0.953);transform-origin:50% 50%;-webkit-text-stroke:0.15px currentColor;color:#111;-webkit-text-stroke:0.3px #111">企業価値</div>
<div class="" style="left:680px;top:413px;width:136.00px;height:53.00px;background:#fff;border:1px dotted #707070"></div>
<div id="te99fefef" class="t" style="left:747.50px;top:422.50px;font-size:6px;transform:translate(-50%,-50%) scaleX(0.961);transform-origin:50% 50%;-webkit-text-stroke:0.1px currentColor;color:#666">生産性向上に伴う活動量増加により</div>
<div id="td5b574ea" class="t" style="left:747.00px;top:434.50px;font-size:6px;transform:translate(-50%,-50%) scaleX(0.913);transform-origin:50% 50%;-webkit-text-stroke:0.1px currentColor;color:#666">金融態勢アップ</div>
<div id="t7e23e1e5" class="t" style="left:750.00px;top:443.00px;font-size:9px;transform:translate(-50%,-50%) scaleX(1.000);transform-origin:50% 50%;-webkit-text-stroke:0.15px currentColor;color:#666">↓</div>
<div id="t0426d33c" class="t" style="left:749.00px;top:457.50px;font-size:5.5px;transform:translate(-50%,-50%) scaleX(0.896);transform-origin:50% 50%;-webkit-text-stroke:0.1px currentColor;color:#666">地域に対して、より充実したサービスの提供へ</div>
<div class="y" style="left:668px;top:496px;width:164.00px;height:12.50px;"></div>
<div id="tbcf00cca" class="t" style="left:749.50px;top:502.00px;font-size:8.5px;transform:translate(-50%,-50%) scaleX(0.943);transform-origin:50% 50%;-webkit-text-stroke:0.15px currentColor;color:#111;-webkit-text-stroke:0.25px #111">中期経営計画(R7~R9)</div>
<div class="" style="left:668px;top:511px;width:164.50px;height:54.50px;background:#fff;border:1px dotted #707070"></div>
<div id="t5309582b" class="t" style="left:756.10px;top:516.70px;font-size:7px;transform:translate(-50%,-50%) scaleX(1.286);transform-origin:50% 50%;-webkit-text-stroke:0.15px currentColor;color:#555;-webkit-text-stroke:0.3px #555">R6</div>
<div id="t90889b93" class="t" style="left:777.10px;top:516.70px;font-size:7px;transform:translate(-50%,-50%) scaleX(1.286);transform-origin:50% 50%;-webkit-text-stroke:0.15px currentColor;color:#555;-webkit-text-stroke:0.3px #555">R7</div>
<div id="t35246eef" class="t" style="left:798.30px;top:516.70px;font-size:7px;transform:translate(-50%,-50%) scaleX(1.286);transform-origin:50% 50%;-webkit-text-stroke:0.15px currentColor;color:#555;-webkit-text-stroke:0.3px #555">R8</div>
<div id="t4c2cc623" class="t" style="left:819.30px;top:516.70px;font-size:7px;transform:translate(-50%,-50%) scaleX(1.286);transform-origin:50% 50%;-webkit-text-stroke:0.15px currentColor;color:#555;-webkit-text-stroke:0.3px #555">R9</div>
<div id="t5a992804" class="t" style="left:755.10px;top:528.10px;font-size:6.5px;transform:translate(-50%,-50%) scaleX(1.000);transform-origin:50% 50%;-webkit-text-stroke:0.1px currentColor;color:#888">79</div>
<div id="t0feae790" class="t" style="left:775.50px;top:528.10px;font-size:6.5px;transform:translate(-50%,-50%) scaleX(1.000);transform-origin:50% 50%;-webkit-text-stroke:0.1px currentColor;color:#888">80</div>
<div id="tf62bd373" class="t" style="left:798.90px;top:528.10px;font-size:6.5px;transform:translate(-50%,-50%) scaleX(1.000);transform-origin:50% 50%;-webkit-text-stroke:0.1px currentColor;color:#888">82</div>
<div id="tb9c890b9" class="t" style="left:818.80px;top:528.10px;font-size:6.5px;transform:translate(-50%,-50%) scaleX(1.000);transform-origin:50% 50%;-webkit-text-stroke:0.1px currentColor;color:#888">84</div>
<div id="t899969a8" class="t" style="left:751.80px;top:549.70px;font-size:6.5px;transform:translate(-50%,-50%) scaleX(1.160);transform-origin:50% 50%;-webkit-text-stroke:0.1px currentColor;color:#888">3.34</div>
<div id="t666fe3a1" class="t" style="left:775.60px;top:549.70px;font-size:6.5px;transform:translate(-50%,-50%) scaleX(1.160);transform-origin:50% 50%;-webkit-text-stroke:0.1px currentColor;color:#888">3.50</div>
<div id="tb3183574" class="t" style="left:797.00px;top:549.70px;font-size:6.5px;transform:translate(-50%,-50%) scaleX(1.167);transform-origin:50% 50%;-webkit-text-stroke:0.1px currentColor;color:#888">3.55</div>
<div id="t71d3a943" class="t" style="left:818.20px;top:549.70px;font-size:6.5px;transform:translate(-50%,-50%) scaleX(1.167);transform-origin:50% 50%;-webkit-text-stroke:0.1px currentColor;color:#888">3.60</div>
<div id="t41c02baf" class="t" style="left:670.00px;top:527.50px;font-size:6px;transform:translateY(-50%) scaleX(0.938);transform-origin:0 50%;font-weight:bold;color:#111">組織のパフォーマンス向上</div>
<div id="t12a6c531" class="t" style="left:674.00px;top:538.00px;font-size:5px;transform:translateY(-50%) scaleX(0.989);transform-origin:0 50%;-webkit-text-stroke:0.1px currentColor;color:#666">(プレゼンティーイズム)</div>
<div id="t57cc146e" class="t" style="left:670.00px;top:549.50px;font-size:6px;transform:translateY(-50%) scaleX(1.030);transform-origin:0 50%;font-weight:bold;color:#111">組織の活性化</div>
<div id="td658f321" class="t" style="left:674.00px;top:559.50px;font-size:5px;transform:translateY(-50%) scaleX(0.959);transform-origin:0 50%;-webkit-text-stroke:0.1px currentColor;color:#666">(ワーク・エンゲイジメント)</div>
<svg style="left:0;top:0" width="865" height="649"><path d="M102.3 500 L127 511.6 H115 V523 H90.3 V511.6 H77.6Z" fill="#A6A6A6"/></svg>
<div class="y" style="left:15px;top:527px;width:174.00px;height:90.50px;"></div>
<div id="t8d128b7e" class="t" style="left:102.00px;top:537.50px;font-size:10.5px;transform:translate(-50%,-50%) scaleX(0.921);transform-origin:50% 50%;-webkit-text-stroke:0.3px currentColor;">職員の健康課題</div>
<div class="" style="left:22px;top:555.3px;width:158.80px;height:51.20px;background:#fff;border:1.2px solid #222"></div>
<div id="t44687096" class="t" style="left:34.00px;top:573.50px;font-size:12px;transform:translateY(-50%) scaleX(0.834);transform-origin:0 50%;-webkit-text-stroke:0.3px currentColor;">・高血圧者率の増加</div>
<div id="t1f311334" class="t" style="left:126.00px;top:573.00px;font-size:6px;transform:translateY(-50%) scaleX(1.123);transform-origin:0 50%;-webkit-text-stroke:0.1px currentColor;color:#555">※若年層</div>
<div id="t37425f28" class="t" style="left:34.00px;top:589.50px;font-size:12px;transform:translateY(-50%) scaleX(0.871);transform-origin:0 50%;-webkit-text-stroke:0.3px currentColor;">・適正体重維持者（<b>BMI</b>）</div>
<svg style="left:0;top:0" width="865" height="649"><path d="M192.4 572.2 L209.7 542.5 V561.5 H550.3 V516.7 H532.4 L560.5 499 L589.6 516.7 H571.7 V582.5 H209.7 V601.2Z" fill="#D9D9D9" stroke="#888" stroke-width="0.6" stroke-dasharray="1 1"/></svg>
</body></html>
